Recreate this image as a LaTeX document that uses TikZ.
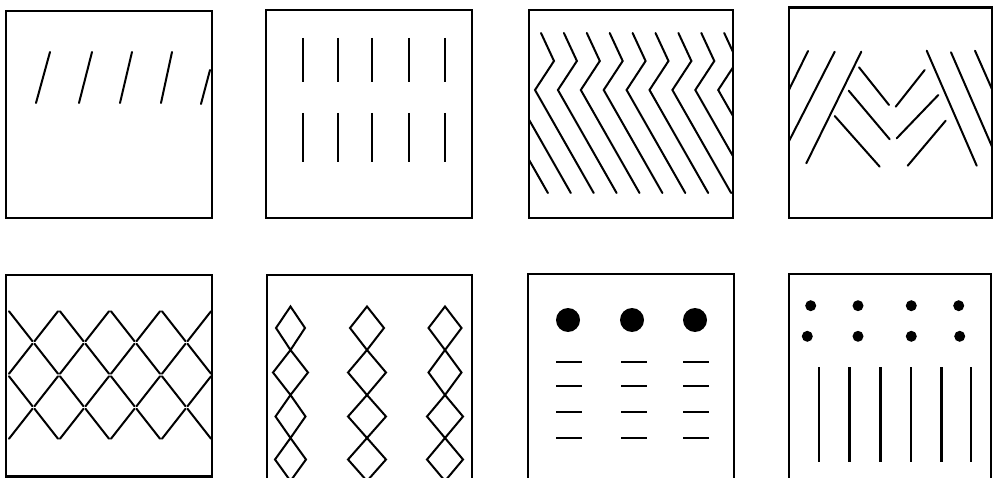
\documentclass[tikz,border=0pt]{standalone}
\begin{document}
\begin{tikzpicture}[x=1pt,y=-1pt,
  box/.style={line width=2.2pt},
  stroke/.style={line width=2pt,line cap=round},
  bar/.style={line width=2.5pt,line cap=butt},
  dashline/.style={line width=2.2pt}]
\useasboundingbox (0,0) rectangle (993,478);
\clip (0,0) rectangle (993,478);
% ---------- panel 1 ----------
\draw[box] (6,11) rectangle (212,218);
\foreach \a/\b in {36/50,79/92,120/132,161/172} \draw[stroke] (\a,103) -- (\b,52);
\draw[stroke] (201,104) -- (210,70);
% ---------- panel 2 ----------
\draw[box] (266,10) rectangle (472,218);
\foreach \x in {303,338,372,409,445} {
  \draw[bar] (\x,38) -- (\x,82);
  \draw[bar] (\x,113) -- (\x,162);
}
% ---------- panel 3 ----------
\begin{scope}
\clip (529.3,10) rectangle (733.3,218);
\foreach \k in {0,...,8}
  \draw[stroke] ({541+22.9*\k},33) -- ({554+22.9*\k},61) -- ({535+22.9*\k},90) -- ({593.7+22.9*\k},193);
\foreach \k in {-1,-2}
  \draw[stroke] ({535+22.9*\k},90) -- ({593.7+22.9*\k},193);
\end{scope}
\draw[box] (529.3,10) rectangle (733.3,218);
% ---------- panel 4 ----------
\begin{scope}
\clip (789,7.5) rectangle (992,218);
\draw[stroke] (808,51) -- (784,100);
\draw[stroke] (834.7,51.7) -- (786,147);
\draw[stroke] (861.3,51.7) -- (806.3,163.3);
\draw[stroke] (859,67.3) -- (889,105);
\draw[stroke] (848.7,90.7) -- (889.7,139.3);
\draw[stroke] (834.7,116) -- (879.7,166.7);
\draw[stroke] (924.7,70) -- (895.7,106.7);
\draw[stroke] (938.3,95) -- (896.7,138.3);
\draw[stroke] (945.7,120.7) -- (907.7,165.7);
\draw[stroke] (926.7,50.7) -- (976.7,165.7);
\draw[stroke] (951,52.3) -- (995,153.5);
\draw[stroke] (975,50.7) -- (995,96);
\end{scope}
\draw[box] (789,7.5) rectangle (992,218);
% ---------- panel 5 ----------
\draw[box] (6,275.3) rectangle (212,476.5);
\foreach \j in {0,...,3} {
  \foreach \i in {0,...,7} {
    \pgfmathsetmacro\xa{8+25.5*\i}
    \pgfmathsetmacro\xb{8+25.5*(\i+1)}
    \pgfmathsetmacro\ya{310+32.5*(\j+mod(\i+\j,2))}
    \pgfmathsetmacro\yb{310+32.5*(\j+mod(\i+\j+1,2))}
    \draw[stroke,shorten <=1.6pt,shorten >=1.6pt] (\xa,\ya) -- (\xb,\yb);
  }
}
% ---------- panel 6 ----------
\draw[box] (266.7,480) |- (471.7,275.3) -- (471.7,480);
\foreach \cx/\wa/\wb/\wc/\wd in {290.5/14.5/17.5/15/15.5, 367/17/19/19/19, 445/16.5/16.5/18/18} {
  \draw[stroke,line cap=butt] (\cx,306.5) -- (\cx+\wa,328) -- (\cx,350) -- (\cx-\wa,328) -- cycle;
  \draw[stroke,line cap=butt] (\cx,350) -- (\cx+\wb,372.5) -- (\cx,395) -- (\cx-\wb,372.5) -- cycle;
  \draw[stroke,line cap=butt] (\cx,395) -- (\cx+\wc,416.5) -- (\cx,438) -- (\cx-\wc,416.5) -- cycle;
  \draw[stroke,line cap=butt] (\cx,438) -- (\cx+\wd,459.5) -- (\cx,481) -- (\cx-\wd,459.5) -- cycle;
}
% ---------- panel 7 ----------
\draw[box] (528,480) |- (734,274) -- (734,480);
\foreach \x in {568,632,695} \fill (\x,320) circle[radius=12pt];
\foreach \y in {362,386,412,438}
  \foreach \a in {556,621,683}
    \draw[dashline] (\a,\y) -- (\a+26,\y);
% ---------- panel 8 ----------
\draw[box] (789,480) |- (991,274) -- (991,480);
\foreach \x in {810.7,858,911.3,958.7} \fill (\x,305.7) circle[radius=5.5pt];
\foreach \x in {807.3,858,911.3,959.7} \fill (\x,336.3) circle[radius=5.5pt];
\foreach \x in {819,849.5,880.5,911,941.5,971} \draw[bar] (\x,367) -- (\x,462);
\end{tikzpicture}
\end{document}
